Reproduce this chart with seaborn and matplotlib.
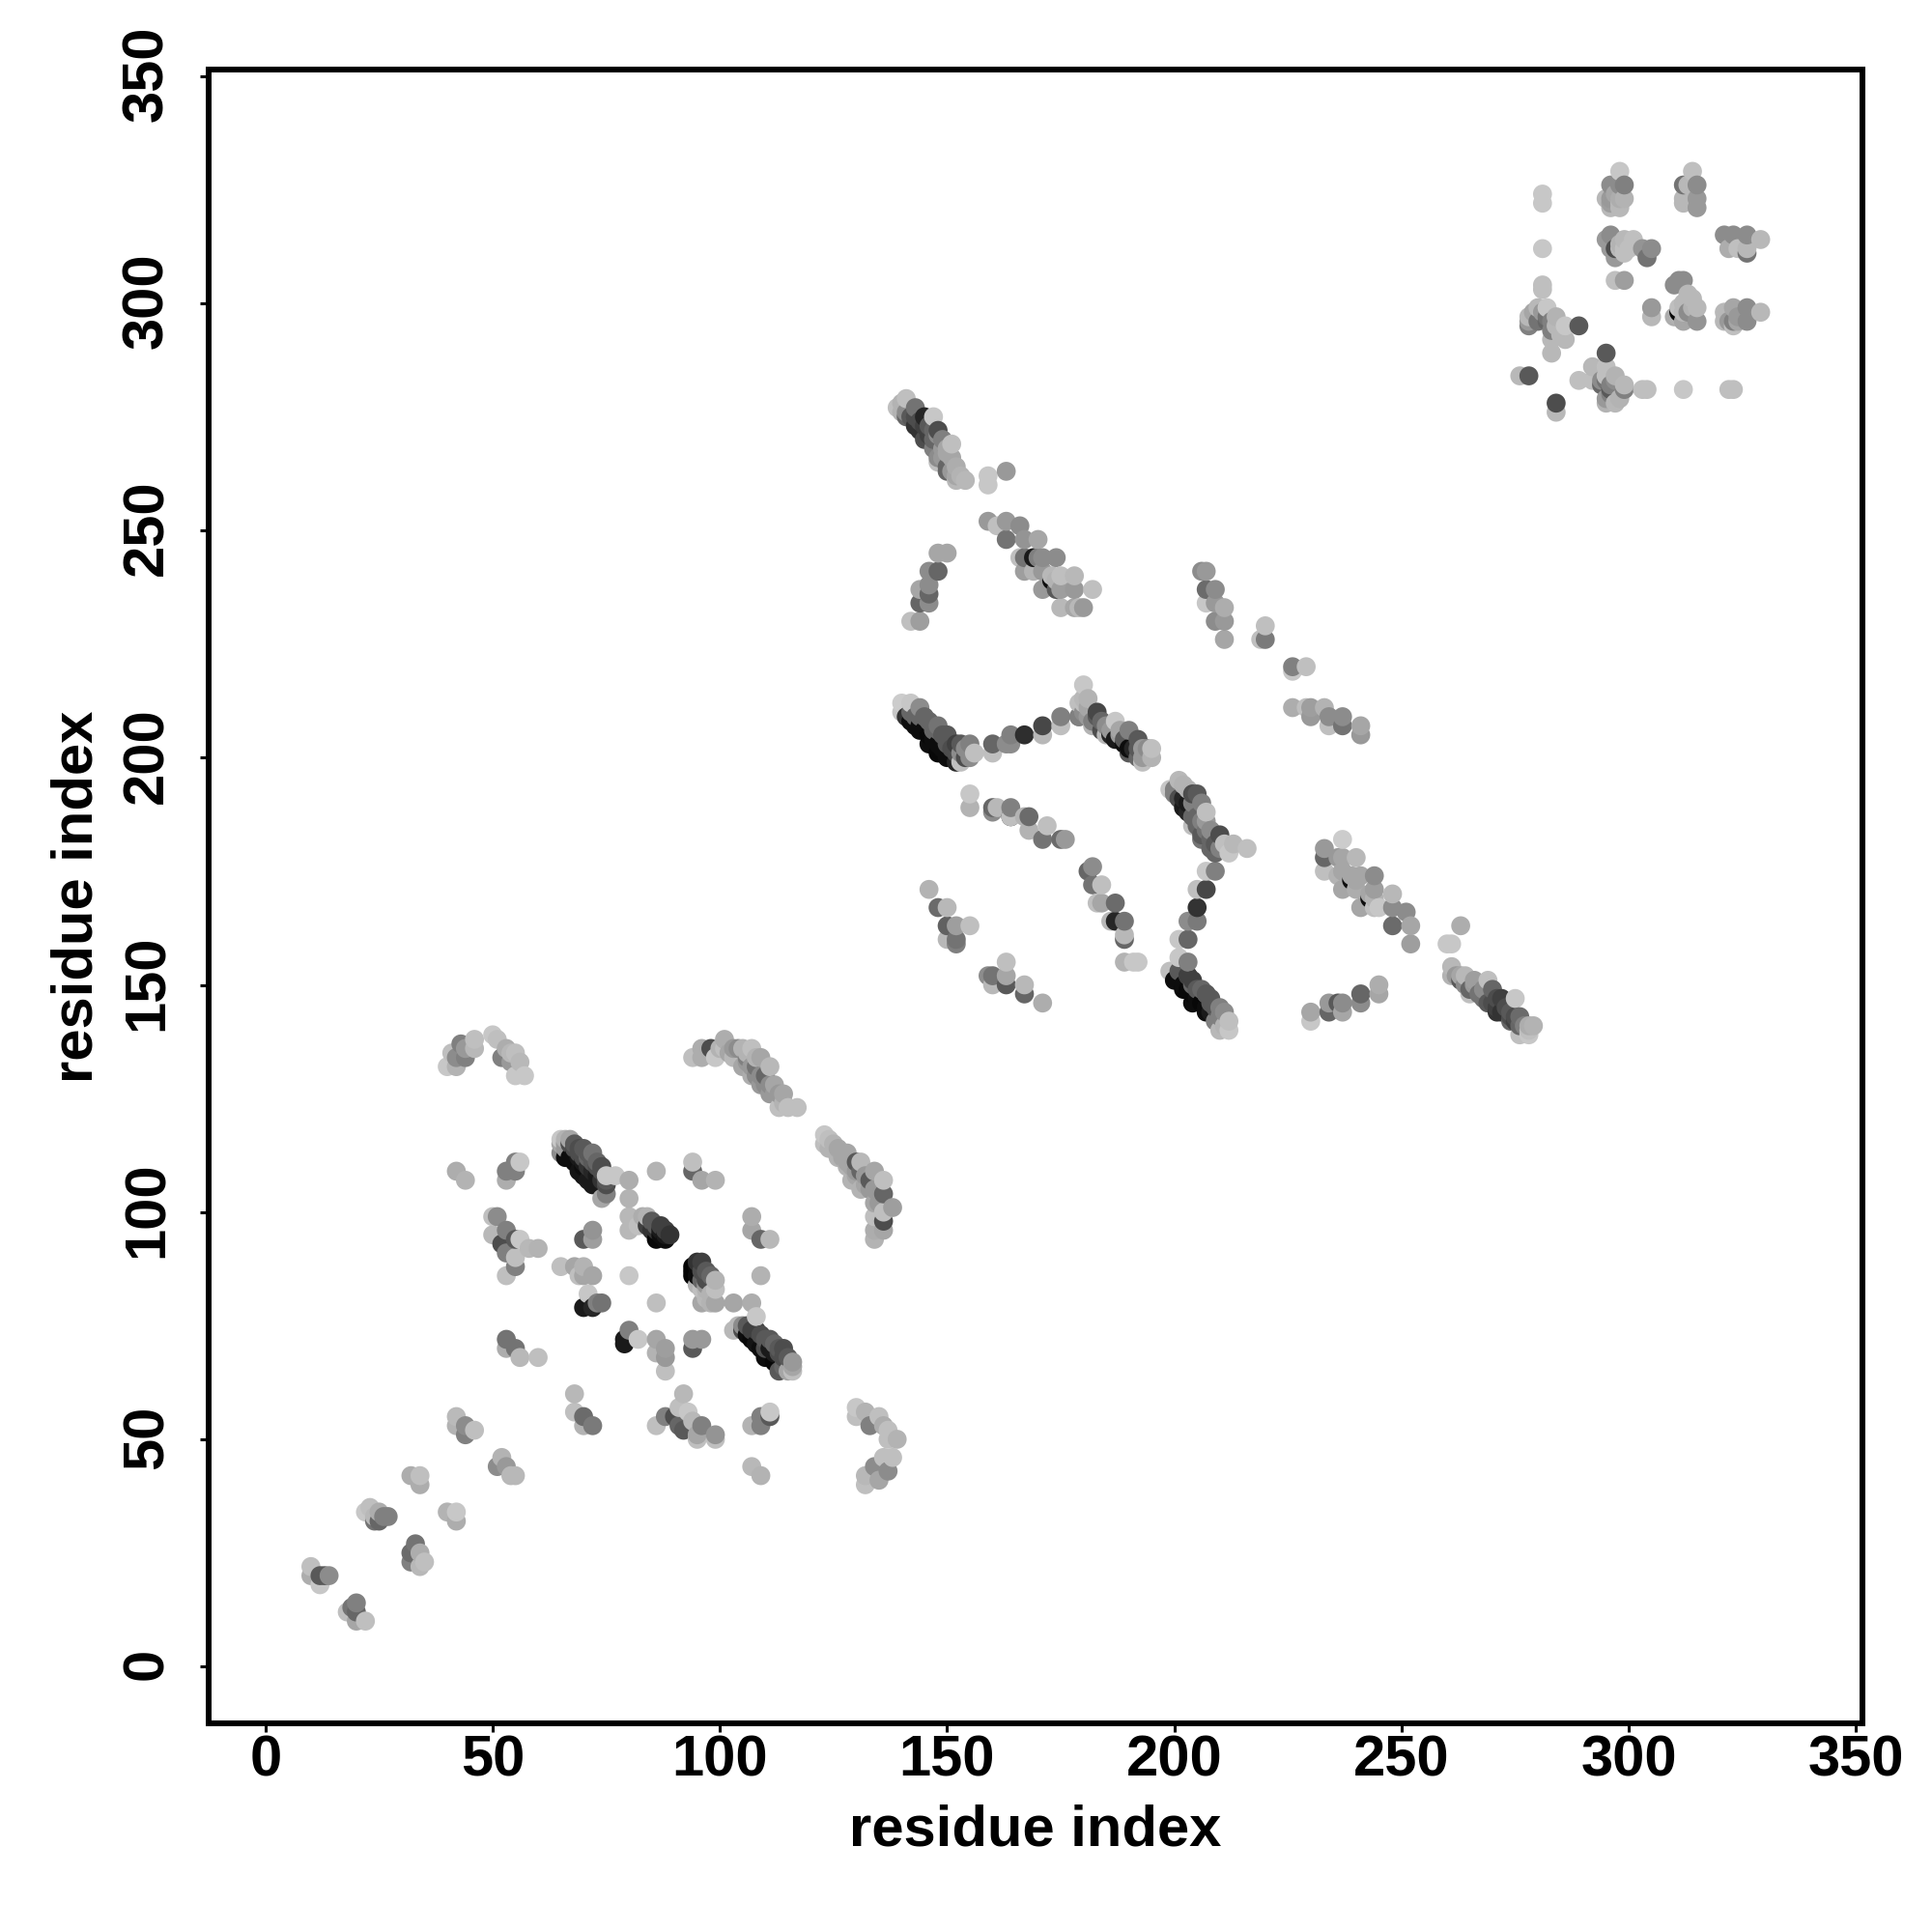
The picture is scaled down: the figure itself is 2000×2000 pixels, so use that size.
import matplotlib
matplotlib.use("Agg")
import matplotlib.pyplot as plt
from matplotlib.transforms import ScaledTranslation
import pandas as pd
import seaborn as sns

# contacts in the first domain (residues 10-139)
low_x = [10, 10, 12, 12, 13, 14, 18, 19, 20, 20,
         20, 22, 22, 23, 24, 24, 25, 25, 26, 27,
         32, 34, 34, 33, 32, 32, 34, 35, 34, 40,
         42, 42, 42, 42, 44, 44, 46, 52, 51, 53,
         54, 55, 68, 68, 70, 70, 72, 40, 42, 41,
         43, 44, 42, 44, 46, 46, 50, 51, 53, 54,
         52, 55, 54, 56, 55, 57, 55, 56, 53, 55,
         53, 42, 44, 65, 67, 65, 66, 67, 68, 69,
         70, 71, 72, 68, 69, 71, 72, 73, 75, 77,
         75, 75, 74, 80, 80, 86, 94, 94, 96, 99,
         107, 107, 109, 111, 109, 51, 50, 50, 53, 52,
         55, 53, 56, 58, 60, 55, 55, 53, 72, 70,
         72, 80, 80, 82, 84, 86, 85, 86, 89, 88,
         65, 68, 70, 70, 72, 69, 80, 95, 94, 94,
         97, 99, 96, 96, 99, 98, 103, 107, 86, 71,
         70, 72, 74, 73, 53, 55, 53, 56, 60, 80,
         79, 79, 82, 86, 86, 88, 88, 88, 94, 96,
         94, 103, 105, 108, 106, 109, 108, 112, 110, 114,
         116, 113, 116, 92, 88, 86, 91, 90, 93, 91,
         92, 94, 96, 95, 95, 99, 99, 111, 109, 111,
         109, 107, 107, 109, 130, 130, 132, 135, 133, 136,
         137, 139, 137, 136, 138, 134, 137, 132, 135, 132,
         94, 96, 96, 99, 98, 101, 101, 104, 105, 107,
         103, 106, 109, 105, 108, 111, 107, 110, 109, 112,
         111, 114, 113, 115, 117, 123, 123, 125, 128, 126,
         128, 130, 131, 134, 131, 129, 133, 131, 136, 136,
         134, 138, 134, 136, 136, 134, 136, 134]
low_y = [22, 20, 18, 20, 20, 20, 12, 13, 14, 12,
         10, 10, 34, 35, 33, 32, 34, 32, 33, 33,
         42, 42, 40, 27, 25, 23, 25, 23, 22, 34,
         34, 32, 55, 53, 53, 51, 52, 46, 44, 44,
         42, 42, 60, 56, 55, 53, 53, 132, 132, 135,
         137, 134, 134, 136, 138, 136, 139, 138, 136, 135,
         134, 135, 133, 133, 130, 130, 111, 111, 109, 109,
         107, 109, 107, 116, 116, 113, 114, 112, 111, 109,
         108, 107, 106, 114, 113, 112, 111, 110, 108, 108,
         106, 104, 103, 107, 103, 109, 111, 109, 107, 107,
         99, 96, 94, 94, 86, 99, 99, 95, 96, 93,
         94, 91, 94, 92, 92, 90, 88, 86, 96, 94,
         94, 99, 96, 97, 99, 97, 96, 94, 95, 94,
         88, 88, 88, 86, 86, 86, 86, 89, 87, 86,
         87, 85, 83, 80, 80, 82, 80, 80, 80, 82,
         79, 79, 80, 80, 72, 70, 70, 68, 68, 74,
         72, 71, 72, 72, 69, 70, 65, 68, 72, 72,
         70, 74, 74, 77, 73, 73, 71, 71, 68, 68,
         67, 65, 65, 60, 55, 53, 57, 55, 56, 53,
         52, 54, 53, 51, 50, 51, 50, 56, 55, 55,
         53, 53, 44, 42, 57, 55, 56, 55, 53, 53,
         52, 50, 50, 46, 46, 44, 43, 42, 41, 40,
         134, 136, 134, 134, 136, 138, 136, 136, 136, 136,
         134, 134, 134, 132, 132, 132, 130, 130, 128, 128,
         126, 126, 123, 123, 123, 117, 115, 115, 113, 112,
         110, 111, 111, 109, 109, 107, 107, 105, 107, 104,
         102, 101, 99, 98, 100, 96, 96, 94]
low_gray = [.75, .68, .78, .35, .35, .55, .75, .45, .5, .4,
            .65, .75, .78, .75, .72, .45, .68, .4, .5, .5,
            .68, .75, .68, .45, .42, .5, .68, .75, .72, .7,
            .78, .68, .73, .7, .55, .5, .75, .7, .55, .6,
            .72, .72, .72, .75, .42, .7, .48, .78, .7, .75,
            .5, .5, .55, .6, .75, .72, .78, .75, .68, .72,
            .5, .75, .6, .72, .78, .78, .5, .78, .5, .5,
            .68, .68, .7, .78, .65, .55, .6, .05, .05, .08,
            .08, .1, .1, .3, .3, .4, .35, .3, .78, .78,
            .3, .5, .65, .68, .7, .7, .75, .4, .65, .7,
            .68, .65, .4, .72, .7, .55, .75, .72, .5, .3,
            .35, .5, .78, .72, .7, .75, .5, .75, .58, .35,
            .62, .72, .72, .75, .7, .35, .2, .03, .2, .05,
            .75, .65, .7, .65, .65, .75, .78, .2, .02, .02,
            .35, .7, .75, .65, .65, .7, .65, .68, .75, .78,
            .1, .15, .45, .5, .45, .45, .68, .72, .75, .5,
            .1, .1, .78, .65, .7, .62, .75, .6, .6, .6,
            .35, .72, .3, .78, .05, .3, .08, .4, .05, .3,
            .6, .35, .75, .72, .5, .75, .75, .3, .78, .4,
            .35, .72, .5, .65, .75, .58, .75, .78, .5, .35,
            .5, .7, .72, .7, .78, .75, .7, .75, .5, .68,
            .75, .7, .75, .75, .75, .55, .55, .72, .65, .75,
            .75, .68, .68, .78, .3, .68, .75, .55, .7, .75,
            .72, .5, .65, .65, .45, .72, .68, .4, .6, .65,
            .6, .65, .75, .75, .75, .78, .75, .7, .65, .7,
            .7, .35, .72, .65, .4, .7, .35, .7, .75, .4,
            .65, .62, .75, .3, .75, .68, .65, .7]

# denser parts of the bands in the first domain
band_low_x = [66, 68, 69, 70, 70, 71, 72, 73, 74, 74, 75, 67, 68, 69, 70, 71, 72, 65, 66, 70, 73, 74, 66,
              87, 87, 88, 86, 85, 84, 83, 87, 88,
              95, 95, 96, 96, 96, 97, 98, 97, 94, 95, 97, 99, 97, 98,
              107, 107, 108, 109, 110, 111, 111, 112, 112, 113, 113, 114, 115, 114, 115, 116, 106, 105, 104, 110,
              100, 102, 103, 106, 107, 108, 109, 110, 111, 112, 113, 114, 106, 108,
              124, 126, 127, 128, 129, 130, 130, 132, 132, 133, 134, 135, 135, 124]
band_low_y = [112, 113, 112, 111, 110, 110, 109, 108, 107, 109, 107, 115, 115, 114, 114, 113, 113, 115, 116, 112, 111, 110, 115,
              95, 97, 96, 96, 98, 97, 99, 96, 95,
              88, 86, 89, 87, 85, 85, 86, 84, 88, 84, 83, 83, 81, 80,
              72, 74, 74, 70, 72, 72, 70, 69, 67, 69, 70, 70, 68, 66, 65, 66, 75, 75, 75, 70,
              136, 135, 136, 133, 132, 130, 130, 128, 128, 126, 126, 124, 135, 134,
              114, 114, 112, 111, 110, 109, 108, 108, 106, 105, 105, 104, 102, 116]
band_low_gray = [.05, .05, .1, .1, .05, .2, .15, .1, .2, .3, .35, .3, .35, .3, .35, .35, .45, .65, .7, .3, .4, .3, .6,
                 .05, .25, .25, .2, .35, .25, .68, .1, .1,
                 .05, .05, .25, .3, .4, .3, .4, .6, .02, .7, .7, .75, .72, .7,
                 .03, .25, .25, .05, .35, .35, .1, .1, .03, .3, .35, .3, .35, .4, .65, .65, .35, .55, .72, .3,
                 .7, .65, .6, .6, .6, .55, .55, .55, .55, .6, .6, .7, .7, .7,
                 .7, .65, .65, .65, .65, .6, .65, .6, .65, .6, .6, .6, .6, .75]

# contacts in the second domain (residues 139-279)
mid_x = [141, 139, 143, 141, 145, 147, 143, 146, 148, 145,
         151, 147, 150, 148, 152, 150, 152, 154, 159, 159,
         163, 159, 161, 163, 163, 166, 167, 170, 166, 167,
         169, 171, 174, 167, 169, 171, 175, 178, 173, 171,
         174, 175, 178, 182, 175, 178, 180, 179, 148, 150,
         146, 148, 144, 146, 146, 144, 146, 142, 144, 206,
         207, 207, 209, 207, 209, 211, 209, 211, 211, 220,
         219, 220, 226, 229, 226, 226, 229, 230, 230, 233,
         234, 234, 237, 237, 241, 241, 237, 233, 233, 233,
         236, 237, 240, 237, 236, 237, 239, 241, 244, 240,
         244, 243, 241, 244, 245, 248, 248, 248, 251, 252,
         252, 263, 260, 261, 261, 261, 263, 264, 266, 265,
         269, 270, 269, 272, 275, 271, 276, 274, 276, 278,
         279, 278, 245, 245, 241, 241, 237, 237, 236, 234,
         234, 230, 230, 140, 142, 140, 144, 142, 145, 144,
         148, 146, 150, 148, 152, 150, 155, 153, 154, 156,
         153, 160, 160, 164, 164, 163, 167, 171, 171, 175,
         175, 180, 180, 179, 179, 183, 182, 184, 187, 185,
         188, 189, 190, 192, 190, 194, 195, 193, 193, 155,
         155, 160, 161, 164, 160, 164, 164, 168, 167, 168,
         172, 171, 175, 176, 182, 181, 182, 184, 183, 184,
         187, 187, 186, 189, 189, 189, 189, 191, 192, 146,
         148, 150, 150, 152, 155, 150, 152, 152, 163, 159,
         160, 163, 160, 163, 167, 167, 171, 201, 199, 200,
         204, 206, 202, 207, 204, 204, 210, 206, 208, 211,
         213, 212, 216, 207, 209, 205, 207, 205, 203, 205,
         201, 203, 201, 203, 199, 201, 203, 200, 204, 202,
         207, 204, 208, 207, 211, 210, 212, 212]
mid_y = [279, 277, 277, 275, 275, 275, 273, 273, 271, 270,
         269, 270, 267, 265, 264, 263, 261, 261, 262, 260,
         263, 252, 251, 252, 248, 251, 248, 248, 244, 244,
         244, 244, 244, 241, 241, 241, 240, 240, 239, 237,
         237, 237, 237, 237, 233, 233, 233, 233, 245, 245,
         241, 241, 237, 238, 236, 234, 234, 230, 230, 241,
         241, 237, 237, 234, 234, 233, 230, 230, 226, 229,
         226, 226, 220, 220, 219, 211, 211, 211, 209, 211,
         209, 207, 209, 207, 207, 205, 182, 180, 178, 175,
         178, 178, 178, 175, 174, 171, 173, 174, 174, 171,
         171, 169, 167, 167, 167, 170, 167, 163, 166, 163,
         159, 163, 159, 159, 154, 152, 151, 152, 151, 148,
         151, 149, 146, 147, 147, 144, 143, 142, 139, 141,
         141, 139, 150, 148, 148, 146, 146, 144, 146, 146,
         144, 144, 142, 212, 212, 210, 211, 208, 209, 206,
         207, 203, 205, 201, 203, 200, 203, 201, 200, 201,
         199, 203, 201, 205, 203, 203, 205, 207, 205, 209,
         207, 216, 213, 212, 209, 210, 207, 208, 208, 205,
         206, 203, 206, 204, 201, 202, 202, 199, 200, 192,
         189, 189, 189, 189, 188, 187, 187, 187, 187, 184,
         185, 182, 182, 182, 176, 175, 172, 172, 168, 168,
         168, 164, 164, 164, 161, 160, 155, 155, 155, 171,
         167, 167, 163, 163, 163, 160, 160, 159, 155, 152,
         152, 152, 150, 150, 150, 148, 146, 195, 193, 192,
         192, 190, 189, 188, 187, 185, 183, 182, 180, 181,
         181, 179, 180, 175, 175, 171, 171, 167, 164, 164,
         160, 160, 156, 155, 153, 153, 152, 151, 150, 149,
         148, 146, 146, 144, 144, 140, 142, 140]
mid_gray = [.75, .75, .45, .4, .15, .78, .2, .35, .55, .3,
            .75, .4, .65, .75, .68, .4, .72, .72, .78, .78,
            .6, .6, .75, .6, .45, .55, .58, .65, .75, .45,
            .1, .55, .55, .62, .7, .6, .75, .72, .05, .6,
            .35, .62, .6, .75, .72, .65, .6, .72, .65, .65,
            .55, .4, .65, .55, .4, .4, .55, .75, .62, .55,
            .6, .42, .55, .78, .6, .68, .55, .6, .65, .75,
            .75, .48, .5, .75, .78, .68, .75, .62, .6, .7,
            .55, .75, .55, .45, .65, .6, .8, .6, .4, .75,
            .6, .65, .72, .65, .7, .65, .05, .65, .55, .68,
            .62, .05, .65, .75, .78, .72, .55, .42, .55, .65,
            .62, .68, .78, .78, .72, .7, .35, .72, .62, .75,
            .75, .4, .35, .25, .78, .2, .42, .4, .75, .68,
            .7, .78, .68, .65, .4, .55, .55, .65, .35, .6,
            .4, .65, .78, .8, .78, .78, .55, .05, .4, .05,
            .45, .05, .35, .03, .25, .05, .5, .55, .3, .75,
            .75, .4, .75, .5, .55, .55, .18, .28, .72, .5,
            .75, .78, .72, .75, .45, .28, .7, .4, .78, .72,
            .65, .05, .5, .35, .35, .55, .75, .75, .6, .78,
            .7, .4, .72, .5, .55, .2, .75, .42, .7, .7,
            .75, .45, .42, .6, .55, .4, .45, .75, .75, .65,
            .42, .15, .72, .45, .72, .4, .7, .78, .78, .7,
            .42, .72, .38, .62, .75, .72, .45, .5, .75, .55,
            .45, .65, .72, .35, .72, .4, .68, .72, .78, .5,
            .3, .5, .1, .75, .4, .75, .3, .45, .4, .75,
            .72, .78, .75, .78, .5, .75, .28, .2, .55, .48,
            .78, .4, .78, .5, .75, .35, .25, .05, .4, .03,
            .4, .05, .35, .05, .55, .72, .75, .78]

# denser parts of the bands in the second domain
band_mid_x = [141, 142, 143, 143, 144, 145, 146, 147, 148, 149, 144, 146, 147, 148, 150, 151, 151, 152, 149, 153, 155, 154, 152,
              181, 180, 179, 181, 182, 183, 184, 185, 186, 186, 187, 188, 189, 190, 191, 192, 193, 194, 195, 192, 180, 181,
              200, 201, 202, 203, 203, 205, 205, 206, 207, 207, 208, 208, 206, 209, 209, 210, 204, 205, 202, 203,
              201, 202, 203, 204, 205, 206, 207, 208, 203, 204, 205, 206, 207, 208, 209, 210, 210, 209, 211,
              262, 263, 264, 265, 266, 267, 268, 268, 270, 271, 271, 272, 273, 274, 274, 275, 276, 277, 275, 278,
              140, 140, 141, 142, 143, 144, 144, 145, 146, 146, 147, 148, 149, 149, 150, 149, 151, 150, 151, 152, 153, 147, 148,
              240, 239, 244, 243, 174, 173, 170]
band_mid_y = [209, 210, 209, 207, 207, 206, 205, 204, 203, 202, 209, 208, 206, 206, 203, 202, 200, 199, 205, 203, 200, 202, 201,
              211, 210, 209, 209, 208, 209, 206, 207, 205, 206, 204, 205, 204, 202, 202, 202, 202, 201, 200, 200, 212, 213,
              193, 191, 191, 190, 188, 187, 185, 186, 184, 186, 182, 184, 183, 181, 179, 180, 190, 192, 194, 193,
              152, 150, 149, 148, 147, 146, 145, 144, 152, 151, 149, 149, 148, 147, 145, 145, 143, 142, 141,
              152, 152, 150, 149, 150, 148, 149, 147, 146, 147, 145, 144, 145, 144, 143, 143, 141, 141, 142, 140,
              278, 276, 276, 275, 275, 274, 272, 273, 271, 270, 272, 272, 270, 268, 268, 266, 266, 264, 263, 262, 262, 268, 266,
              173, 174, 169, 170, 239, 240, 244]
band_mid_gray = [.2, .4, .4, .05, .05, .05, .03, .05, .05, .05, .4, .4, .4, .4, .35, .3, .05, .15, .35, .35, .55, .55, .3,
                 .65, .55, .5, .6, .5, .35, .3, .55, .15, .6, .1, .6, .35, .05, .15, .35, .6, .6, .7, .4, .75, .7,
                 .5, .3, .15, .1, .15, .4, .4, .5, .45, .6, .4, .55, .35, .35, .4, .5, .5, .35, .7, .7,
                 .05, .05, .03, .03, .05, .03, .05, .1, .25, .25, .35, .4, .35, .35, .35, .5, .5, .5, .7,
                 .6, .65, .55, .4, .6, .45, .55, .45, .3, .3, .25, .2, .3, .35, .3, .3, .4, .5, .25, .75,
                 .7, .7, .55, .35, .3, .3, .2, .25, .25, .3, .4, .3, .5, .6, .65, .6, .65, .4, .6, .65, .7, .5, .55,
                 .65, .65, .7, .65, .7, .72, .5]

# contacts in the third domain (residues 276-329)
top_x = [281, 281, 281, 281, 281, 298, 296, 298, 299, 295,
         296, 298, 299, 296, 298, 314, 312, 313, 315, 312,
         315, 312, 315, 296, 299, 301, 296, 297, 298, 299,
         297, 303, 305, 304, 297, 299, 321, 323, 326, 329,
         322, 324, 326, 326, 311, 312, 310, 314, 315, 305,
         305, 310, 311, 312, 315, 321, 323, 326, 329, 323,
         321, 326, 323, 278, 278, 280, 280, 282, 284, 282,
         283, 286, 286, 289, 283, 283, 295, 292, 295, 289,
         292, 295, 297, 294, 296, 299, 299, 295, 297, 303,
         304, 312, 322, 323, 276, 278, 284, 284]
top_y = [324, 322, 312, 304, 303, 329, 326, 326, 326, 323,
         323, 323, 323, 321, 321, 329, 326, 326, 326, 323,
         323, 322, 321, 315, 314, 314, 312, 312, 312, 312,
         310, 312, 312, 310, 305, 305, 315, 315, 315, 314,
         312, 312, 312, 311, 305, 305, 304, 301, 299, 299,
         297, 297, 298, 296, 296, 298, 299, 299, 298, 296,
         296, 296, 295, 297, 295, 299, 296, 299, 297, 296,
         294, 295, 292, 295, 292, 289, 289, 286, 286, 283,
         283, 284, 284, 282, 281, 282, 281, 278, 278, 281,
         281, 281, 281, 281, 284, 284, 278, 276]
top_gray = [.78, .78, .78, .75, .75, .78, .55, .55, .5, .72,
            .6, .68, .7, .72, .72, .75, .45, .72, .55, .72,
            .6, .72, .6, .55, .72, .75, .6, .3, .03, .75,
            .6, .58, .55, .45, .75, .62, .55, .55, .55, .72,
            .68, .75, .72, .45, .55, .55, .55, .72, .72, .6,
            .72, .68, .03, .65, .58, .72, .65, .55, .72, .5,
            .72, .55, .75, .72, .5, .72, .45, .78, .7, .4,
            .5, .78, .72, .35, .72, .72, .35, .72, .75, .75,
            .75, .75, .7, .4, .35, .72, .5, .7, .72, .75,
            .75, .78, .75, .75, .72, .35, .3, .72]

# denser parts of the blocks in the third domain
band_top_x = [298, 300, 295, 278, 279, 281, 282, 283, 284, 285,
              294, 295, 296, 297, 296, 295, 298, 311, 313, 314,
              312, 313, 324, 322, 324, 298, 297, 296, 299, 298,
              312, 311]
band_top_y = [313, 312, 314, 296, 298, 298, 297, 296, 295, 293,
              283, 283, 282, 283, 280, 279, 279, 299, 298, 299,
              300, 302, 297, 296, 296, 322, 324, 322, 311, 312,
              298, 297]
band_top_gray = [.7, .75, .6, .6, .65, .6, .45, .5, .72, .72,
                 .55, .45, .5, .55, .5, .6, .7, .75, .55, .7,
                 .72, .72, .6, .6, .65, .72, .65, .62, .75, .72,
                 .72, .7]

TICKS = [0, 50, 100, 150, 200, 250, 300, 350]
AXIS_LABEL = "residue index"

sns.set_theme(style="white")
plt.rcParams["font.family"] = ["Liberation Sans", "DejaVu Sans"]
plt.rcParams["font.weight"] = "bold"

df = pd.DataFrame({
    "i": low_x + band_low_x + mid_x + band_mid_x + top_x + band_top_x,
    "j": low_y + band_low_y + mid_y + band_mid_y + top_y + band_top_y,
    "gray": low_gray + band_low_gray + mid_gray + band_mid_gray + top_gray + band_top_gray,
})
# later residues are painted over earlier ones
df = df.sort_values(["i", "j"], kind="stable")
palette = {g: str(g) for g in df["gray"].unique()}

fig = plt.figure(figsize=(20, 20), dpi=100)
ax = fig.add_axes([0.108, 0.108, 0.856, 0.856])
sns.scatterplot(data=df, x="i", y="j", hue="gray", palette=palette, s=200,
                linewidth=0, legend=False, ax=ax)

ax.set_xlim(-12.5, 351.4)
ax.set_ylim(-12.5, 351.4)
ax.set_xticks(TICKS)
ax.set_yticks(TICKS)
ax.tick_params(axis="x", bottom=True, length=6.7, width=2.2, color="black",
               labelsize=43, labelcolor="black", pad=1.5)
ax.tick_params(axis="y", left=True, length=6.7, width=2.2, color="black",
               labelsize=43, labelcolor="black", pad=19)
# small nudge so the rotated labels sit centred on their ticks
nudge = ScaledTranslation(0, 2.5 / 100, fig.dpi_scale_trans)
for label in ax.get_yticklabels():
    label.set_rotation(90)
    label.set_va("center")
    label.set_transform(label.get_transform() + nudge)
for spine in ax.spines.values():
    spine.set_visible(True)
    spine.set_color("black")
    spine.set_linewidth(4.3)

ax.set_xlabel(AXIS_LABEL, fontsize=43, fontweight="bold", color="black")
ax.set_ylabel(AXIS_LABEL, fontsize=43, fontweight="bold", color="black")
ax.xaxis.set_label_coords(0.5, -0.049)
ax.yaxis.set_label_coords(-0.0636, 0.5)

fig.savefig("out.png", dpi=100)
